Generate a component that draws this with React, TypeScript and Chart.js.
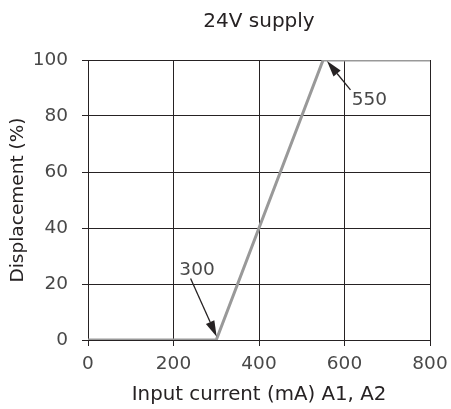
import React, { useEffect, useRef } from "react";
import { Chart, registerables } from "chart.js";

Chart.register(...registerables);

const currentX = [0, 300, 550, 800];
const displacementY = [0, 0, 100, 100];
const xTicks = [0, 200, 400, 600, 800];
const yTicks = [0, 20, 40, 60, 80, 100];
const titleText = "24V supply";
const xTitle = "Input current (mA) A1, A2";
const yTitle = "Displacement (%)";
// annotations: label, label position, arrow tail, arrow tip (data units)
const annLabels = ["300", "550"];
const annTextPos = [[255, 25], [658, 85.5]];
const annTail = [[240, 22], [614, 89.3]];
const annTip = [[301, 1.2], [559, 99.6]];

const FONT = "'DejaVu Sans', sans-serif";
const DARK = "#262223";
const TICK = "#484848";
const TFS = 18.5;

const arrowPlugin = {
  id: "arrows",
  afterDatasetsDraw(chart: any) {
    const { ctx, scales } = chart;
    const xs = scales.x, ys = scales.y;
    ctx.save();
    for (let i = 0; i < annLabels.length; i++) {
      const tx = xs.getPixelForValue(annTail[i][0]);
      const ty = ys.getPixelForValue(annTail[i][1]);
      const hx = xs.getPixelForValue(annTip[i][0]);
      const hy = ys.getPixelForValue(annTip[i][1]);
      const ang = Math.atan2(hy - ty, hx - tx);
      const headLen = 16, headW = 4.6;
      const bx = hx - headLen * Math.cos(ang);
      const by = hy - headLen * Math.sin(ang);
      ctx.strokeStyle = DARK;
      ctx.lineWidth = 1.3;
      ctx.beginPath();
      ctx.moveTo(tx, ty);
      ctx.lineTo(bx, by);
      ctx.stroke();
      ctx.fillStyle = DARK;
      ctx.beginPath();
      ctx.moveTo(hx, hy);
      ctx.lineTo(bx + headW * Math.sin(ang), by - headW * Math.cos(ang));
      ctx.lineTo(bx - headW * Math.sin(ang), by + headW * Math.cos(ang));
      ctx.closePath();
      ctx.fill();
      ctx.fillStyle = TICK;
      ctx.font = `${TFS}px ${FONT}`;
      ctx.textAlign = "center";
      ctx.textBaseline = "middle";
      ctx.fillText(
        annLabels[i],
        xs.getPixelForValue(annTextPos[i][0]),
        ys.getPixelForValue(annTextPos[i][1])
      );
    }
    ctx.restore();
  },
};

export default function App() {
  const ref = useRef<HTMLCanvasElement>(null);
  useEffect(() => {
    if (!ref.current) return;
    const chart = new Chart(ref.current, {
      type: "line",
      data: {
        datasets: [
          {
            data: currentX.map((x, i) => ({ x, y: displacementY[i] })),
            borderColor: "#999999",
            borderWidth: 3,
            pointRadius: 0,
            tension: 0,
            fill: false,
          },
        ],
      },
      options: {
        responsive: false,
        animation: false,
        layout: { padding: { left: 0, right: 21, top: 0, bottom: 0 } },
        plugins: {
          legend: { display: false },
          tooltip: { enabled: false },
          title: {
            display: true,
            text: titleText,
            fullSize: false,
            color: DARK,
            font: { family: FONT, size: 20, weight: "normal", lineHeight: 1.2 },
            padding: { top: 10, bottom: 60 - 10 - 24 },
          },
        },
        scales: {
          x: {
            type: "linear",
            min: 0,
            max: 800,
            afterBuildTicks: (s: any) => {
              s.ticks = xTicks.map((v) => ({ value: v }));
            },
            afterFit: (s: any) => {
              s.height = 69;
              s.paddingLeft = 0;
              s.paddingRight = 0;
            },
            ticks: {
              color: TICK,
              font: { family: FONT, size: TFS },
              padding: 7,
              maxRotation: 0,
            },
            grid: { color: DARK, lineWidth: 1, tickLength: 6, drawTicks: true },
            border: { color: DARK, width: 1 },
            title: {
              display: true,
              text: xTitle,
              color: DARK,
              font: { family: FONT, size: 19.8, lineHeight: 1.2 },
              padding: { top: 0, bottom: 2 },
            },
          },
          y: {
            type: "linear",
            min: 0,
            max: 100,
            afterBuildTicks: (s: any) => {
              s.ticks = yTicks.map((v) => ({ value: v }));
            },
            afterFit: (s: any) => {
              s.width = 88;
              s.paddingTop = 0;
              s.paddingBottom = 0;
            },
            ticks: {
              color: TICK,
              font: { family: FONT, size: TFS },
              padding: 14,
            },
            grid: { color: DARK, lineWidth: 1, tickLength: 6, drawTicks: true },
            border: { color: DARK, width: 1 },
            title: {
              display: true,
              text: yTitle,
              color: DARK,
              font: { family: FONT, size: 18.5, lineHeight: 1.2 },
              padding: { top: 7.5, bottom: 0 },
            },
          },
        },
      },
      plugins: [arrowPlugin],
    } as any);
    return () => chart.destroy();
  }, []);
  return (
    <div style={{ position: "fixed", left: 0, top: 0, width: 451, height: 409, background: "#fff" }}>
      <canvas ref={ref} width={451} height={409} style={{ display: "block" }} />
    </div>
  );
}
